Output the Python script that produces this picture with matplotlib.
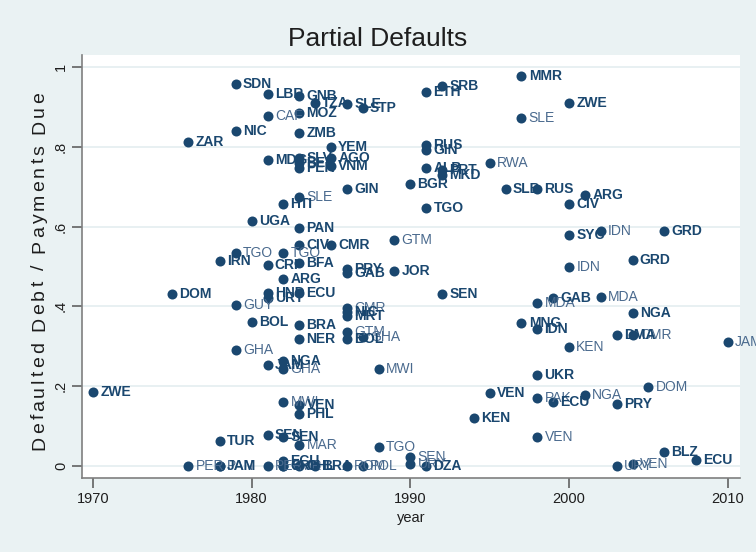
import matplotlib
matplotlib.use("Agg")
import matplotlib.pyplot as plt
from matplotlib.font_manager import FontProperties
from matplotlib.textpath import text_to_path

plt.rcParams['font.family'] = ['Liberation Sans', 'DejaVu Sans']

# Bold-labelled series
years_b = [1979, 1981, 1983, 1984, 1986, 1987, 1983, 1979, 1983, 1976, 1985, 1981, 1983, 1983, 1983, 1985, 1985,
           1991, 1992, 1997, 2000, 1991, 1991, 1991, 1992, 1992, 1990, 1986, 1996, 1998, 2001, 2000, 1991,
           1982, 1980, 1983, 2000, 2006, 2004, 1983, 1985, 1978, 1981, 1983, 1986, 1986, 1989, 1982,
           1981, 1981, 1983, 1975, 1992, 1999, 1980, 1983, 1983, 1986, 1986, 1986, 1982, 1981,
           1997, 1998, 1998, 1995, 1999, 2003, 2003, 2004, 2006, 2008, 1994, 1991, 1978, 1982, 1982,
           1983, 1984, 1981, 1982, 1978, 1983, 1983, 1970]
vals_b = [0.957, 0.932, 0.927, 0.910, 0.907, 0.897, 0.885, 0.840, 0.835, 0.812, 0.800, 0.767, 0.772, 0.759, 0.747, 0.772, 0.752,
          0.937, 0.952, 0.977, 0.910, 0.805, 0.792, 0.747, 0.742, 0.729, 0.707, 0.694, 0.694, 0.694, 0.679, 0.657, 0.647,
          0.657, 0.614, 0.596, 0.579, 0.589, 0.516, 0.554, 0.554, 0.514, 0.504, 0.509, 0.494, 0.484, 0.489, 0.469,
          0.434, 0.421, 0.434, 0.431, 0.431, 0.421, 0.361, 0.353, 0.318, 0.386, 0.376, 0.318, 0.263, 0.253,
          0.358, 0.343, 0.228, 0.183, 0.160, 0.155, 0.328, 0.383, 0.035, 0.015, 0.120, 0.0, 0.0, 0.012, 0.0,
          0.0, 0.0, 0.078, 0.073, 0.063, 0.153, 0.130, 0.185]
labels_b = ['SDN', 'LBR', 'GNB', 'TZA', 'SLE', 'STP', 'MOZ', 'NIC', 'ZMB', 'ZAR', 'YEM', 'MDG', 'SLV', 'BEN', 'PER', 'AGO', 'VNM',
            'ETH', 'SRB', 'MMR', 'ZWE', 'RUS', 'GIN', 'ALB', 'PRT', 'MKD', 'BGR', 'GIN', 'SLB', 'RUS', 'ARG', 'CIV', 'TGO',
            'HTI', 'UGA', 'PAN', 'SYC', 'GRD', 'GRD', 'CIV', 'CMR', 'IRN', 'CRI', 'BFA', 'PRY', 'GAB', 'JOR', 'ARG',
            'HND', 'URY', 'ECU', 'DOM', 'SEN', 'GAB', 'BOL', 'BRA', 'NER', 'NIC', 'MRT', 'BOL', 'NGA', 'JAM',
            'MNG', 'IDN', 'UKR', 'VEN', 'ECU', 'PRY', 'DMA', 'NGA', 'BLZ', 'ECU', 'KEN', 'DZA', 'JAM', 'ECU', 'CRI',
            'CHL', 'BRA', 'SEN', 'SEN', 'TUR', 'VEN', 'PHL', 'ZWE']

# Light-labelled series
years_l = [1981, 1997, 1995, 1983, 1989, 2002, 2000, 1979, 1982, 2002, 1998, 1979, 1979, 1986, 1986, 1987,
           1988, 1982, 2000, 1998, 2001, 2005, 2004, 2010, 2003, 2004, 1998, 1988, 1990, 1990, 1976, 1978,
           1981, 1982, 1983, 1982, 1986, 1987]
vals_l = [0.877, 0.872, 0.759, 0.674, 0.566, 0.589, 0.499, 0.534, 0.534, 0.424, 0.409, 0.404, 0.291, 0.396, 0.336, 0.323,
          0.243, 0.243, 0.298, 0.170, 0.178, 0.198, 0.328, 0.311, 0.0, 0.005, 0.073, 0.048, 0.023, 0.005, 0.0, 0.0,
          0.0, 0.0, 0.053, 0.160, 0.0, 0.0]
labels_l = ['CAF', 'SLE', 'RWA', 'SLE', 'GTM', 'IDN', 'IDN', 'TGO', 'TGO', 'MDA', 'MDA', 'GUY', 'GHA', 'CMR', 'GTM', 'GHA',
            'MWI', 'GHA', 'KEN', 'PAK', 'NGA', 'DOM', 'CMR', 'JAM', 'URY', 'VEN', 'VEN', 'TGO', 'SEN', 'URY', 'PER', 'PAN',
            'PER', 'CMR', 'MAR', 'MWI', 'ROM', 'POL']

x_ticks = [1970, 1980, 1990, 2000, 2010]
y_ticks = [0, 0.2, 0.4, 0.6, 0.8, 1.0]
y_ticklabels = ['0', '.2', '.4', '.6', '.8', '1']
title_text = 'Partial Defaults'
ylabel_text = 'Defaulted Debt / Payments Due'
xlabel_text = 'year'

BG = '#eaf2f3'
MARK = '#1a476f'
LIGHT = '#4a6a8e'
TXT = '#1e1e1e'
W, H, DPI = 756, 552, 100

fig = plt.figure(figsize=(W / DPI, H / DPI), dpi=DPI, facecolor=BG)
ax = fig.add_axes([82/W, 1-478/H, (740-82)/W, (478-55)/H])
ax.set_facecolor('white')
ax.set_xlim(1969.31, 2010.77)
ax.set_ylim(-0.030, 1.030)

for y in y_ticks:
    ax.axhline(y, color='#e4edf0', lw=1.2, zorder=0)

ax.scatter(years_l, vals_l, s=52, color=MARK, zorder=3, linewidths=0)
ax.scatter(years_b, vals_b, s=52, color=MARK, zorder=3, linewidths=0)
for x, y, t in zip(years_l, vals_l, labels_l):
    a = ax.annotate(t, (x, y), xytext=(5.2, 0), textcoords='offset points', va='center', ha='left',
                    fontsize=10, color=LIGHT, zorder=4)
    a.set_clip_on(True)
for x, y, t in zip(years_b, vals_b, labels_b):
    a = ax.annotate(t, (x, y), xytext=(5.2, 0), textcoords='offset points', va='center', ha='left',
                    fontsize=10, fontweight='bold', color=MARK, zorder=4)
    a.set_clip_on(True)

for s in ['top', 'right']:
    ax.spines[s].set_visible(False)
for s in ['left', 'bottom']:
    ax.spines[s].set_color('#7f7f7f')
    ax.spines[s].set_linewidth(1.2)

ax.set_xticks(x_ticks)
ax.set_xticklabels([str(v) for v in x_ticks], fontsize=10.5, color=TXT)
ax.set_yticks(y_ticks)
ax.set_yticklabels(y_ticklabels, fontsize=10.5, color=TXT, rotation=90, va='center')
ax.tick_params(axis='both', direction='out', length=7, width=1.1, color='#555555', pad=3)
ax.set_xlabel(xlabel_text, fontsize=10.5, color=TXT, labelpad=4)


def spaced_text(s, start_px, base_px, size, target_len, vertical):
    """Draw letter-spaced text; start/base in image pixels."""
    prop = FontProperties(family='Liberation Sans', size=size)
    wX = text_to_path.get_text_width_height_descent('X', prop, ismath=False)[0]

    def adv(p):
        if not p:
            return 0.0
        return (text_to_path.get_text_width_height_descent(p + 'X', prop, ismath=False)[0] - wX) * DPI / 72

    full = text_to_path.get_text_width_height_descent(s, prop, ismath=False)[0] * DPI / 72
    gap = (target_len - full) / (len(s) - 1)
    for k, ch in enumerate(s):
        off = adv(s[:k]) + k * gap
        if vertical:
            fig.text(base_px / W, 1 - (start_px - off) / H, ch, rotation=90, rotation_mode='anchor',
                     ha='left', va='baseline', fontproperties=prop, color=TXT)
        else:
            fig.text((start_px + off) / W, 1 - base_px / H, ch, ha='left', va='baseline',
                     fontproperties=prop, color=TXT)


fig.text(378 / W, 1 - 46 / H, title_text, ha='center', va='baseline', fontsize=19, color=TXT)
spaced_text(ylabel_text, 450, 44, 14, 358, vertical=True)

fig.savefig('out.png', dpi=DPI, facecolor=BG)
